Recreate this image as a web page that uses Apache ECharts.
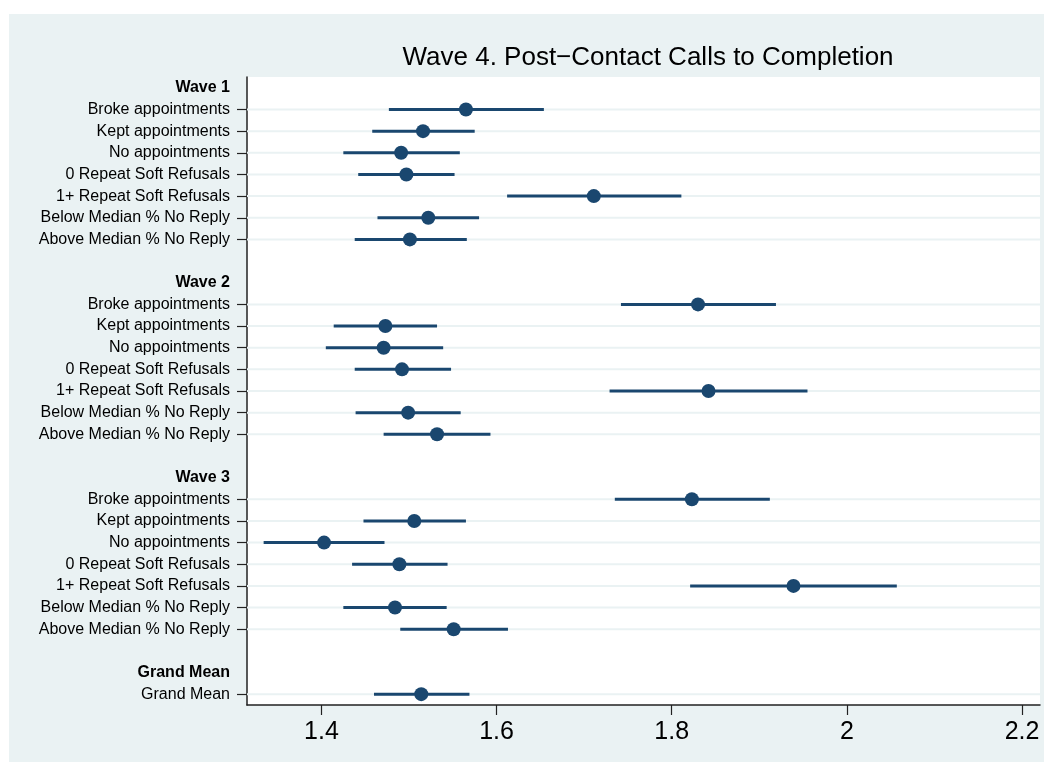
<!DOCTYPE html>
<html>
<head>
<meta charset="utf-8">
<script src="https://cdn.jsdelivr.net/npm/echarts@6/dist/echarts.min.js"></script>
<style>
html,body{margin:0;padding:0;background:#fff;}
#chart{width:1053px;height:776px;}
</style>
</head>
<body>
<div id="chart"></div>
<script>
// ---- data ----
const titleText = 'Wave 4. Post\u2212Contact Calls to Completion';
const groupNames = ['Wave 1', 'Wave 2', 'Wave 3'];
const itemNames = ['Broke appointments', 'Kept appointments', 'No appointments',
  '0 Repeat Soft Refusals', '1+ Repeat Soft Refusals',
  'Below Median % No Reply', 'Above Median % No Reply'];

const wave1Mean  = [1.565, 1.516, 1.491, 1.497, 1.711, 1.522, 1.501];
const wave1Lower = [1.477, 1.458, 1.425, 1.442, 1.612, 1.464, 1.438];
const wave1Upper = [1.654, 1.575, 1.558, 1.552, 1.811, 1.580, 1.566];

const wave2Mean  = [1.830, 1.473, 1.471, 1.492, 1.842, 1.499, 1.532];
const wave2Lower = [1.742, 1.414, 1.405, 1.438, 1.729, 1.439, 1.471];
const wave2Upper = [1.919, 1.532, 1.539, 1.548, 1.955, 1.559, 1.593];

const wave3Mean  = [1.823, 1.506, 1.403, 1.489, 1.939, 1.484, 1.551];
const wave3Lower = [1.735, 1.448, 1.334, 1.435, 1.821, 1.425, 1.490];
const wave3Upper = [1.912, 1.565, 1.472, 1.544, 2.057, 1.543, 1.613];

const grandLabel = 'Grand Mean';
const grandMean  = [1.514];
const grandLower = [1.460];
const grandUpper = [1.569];

const xTickValues = [1.4, 1.6, 1.8, 2, 2.2];

// ---- build rows ----
const categories = [];
const isHeader = [];
const isItem = [];
const points = [];   // [mean, rowIndex]
const intervals = []; // [rowIndex, lower, upper]
const gridRows = [];

function addHeader(name) { categories.push(name); isHeader.push(true); isItem.push(false); }
function addBlank() { categories.push(''); isHeader.push(false); isItem.push(false); }
function addItems(names, m, lo, hi) {
  names.forEach((n, i) => {
    const r = categories.length;
    categories.push(n); isHeader.push(false); isItem.push(true);
    points.push([m[i], r]);
    intervals.push([r, lo[i], hi[i]]);
    gridRows.push([r]);
  });
}
const waveData = [
  [wave1Mean, wave1Lower, wave1Upper],
  [wave2Mean, wave2Lower, wave2Upper],
  [wave3Mean, wave3Lower, wave3Upper]
];
groupNames.forEach((g, gi) => {
  addHeader(g);
  addItems(itemNames, waveData[gi][0], waveData[gi][1], waveData[gi][2]);
  addBlank();
});
addHeader(grandLabel);
addItems([grandLabel], grandMean, grandLower, grandUpper);

const FONT = '"Liberation Sans", Arial, Helvetica, sans-serif';
const NAVY = '#1A476F';
const GRID = '#EAF2F3';
const AXIS = '#222222';

const chart = echarts.init(document.getElementById('chart'), null, { renderer: 'canvas' });
chart.setOption({
  backgroundColor: '#ffffff',
  animation: false,
  textStyle: { fontFamily: FONT },
  graphic: [{
    type: 'rect', z: -10, silent: true,
    shape: { x: 9, y: 14, width: 1035, height: 748 },
    style: { fill: '#EAF2F3' }
  }],
  title: {
    text: titleText,
    left: 643, top: 40, textAlign: 'center',
    textStyle: { fontFamily: FONT, fontSize: 26, fontWeight: 'normal', color: '#000' }
  },
  grid: {
    left: 247, right: 13, top: 77, bottom: 71,
    show: true, backgroundColor: '#ffffff', borderWidth: 0
  },
  xAxis: {
    type: 'value',
    min: 1.315, max: 2.2205,
    axisLine: { show: true, lineStyle: { color: AXIS, width: 1.5 } },
    axisTick: { show: true, length: 10, lineStyle: { color: AXIS, width: 1.2 }, customValues: xTickValues },
    axisLabel: {
      customValues: xTickValues, margin: 15,
      fontFamily: FONT, fontSize: 25, color: '#000',
      formatter: v => String(Math.round(v * 10) / 10)
    },
    splitLine: { show: false }
  },
  yAxis: {
    type: 'category',
    data: categories,
    inverse: true,
    boundaryGap: true,
    axisLine: { show: true, lineStyle: { color: AXIS, width: 1.5 } },
    axisTick: {
      show: true, alignWithLabel: true, length: 10,
      interval: (i) => isItem[i],
      lineStyle: { color: AXIS, width: 1.2 }
    },
    axisLabel: {
      interval: 0, margin: 17,
      fontFamily: FONT, fontSize: 16, color: '#000',
      formatter: (v, i) => isHeader[i] ? '{h|' + v + '}' : v,
      rich: { h: { fontFamily: FONT, fontSize: 16, fontWeight: 'bold', color: '#000' } }
    },
    splitLine: { show: false }
  },
  series: [
    {
      type: 'custom', name: 'grid', z: 1, silent: true,
      data: gridRows,
      encode: { y: 0 },
      renderItem: (params, api) => {
        const cs = params.coordSys;
        const y = api.coord([1.4, api.value(0)])[1];
        return {
          type: 'line',
          shape: { x1: cs.x, y1: y, x2: cs.x + cs.width, y2: y },
          style: { stroke: GRID, lineWidth: 2 }
        };
      }
    },
    {
      type: 'custom', name: 'ci', z: 2,
      data: intervals,
      encode: { y: 0, x: [1, 2] },
      renderItem: (params, api) => {
        const p1 = api.coord([api.value(1), api.value(0)]);
        const p2 = api.coord([api.value(2), api.value(0)]);
        return {
          type: 'line',
          shape: { x1: p1[0], y1: p1[1], x2: p2[0], y2: p2[1] },
          style: { stroke: NAVY, lineWidth: 3 }
        };
      }
    },
    {
      type: 'scatter', name: 'mean', z: 3,
      data: points,
      symbol: 'circle', symbolSize: 14,
      itemStyle: { color: NAVY, opacity: 1 }
    }
  ]
});
</script>
</body>
</html>
